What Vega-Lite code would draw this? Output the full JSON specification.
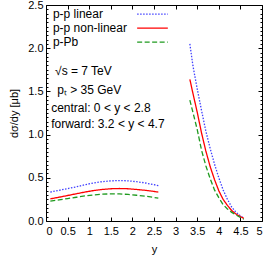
{
  "$schema": "https://vega.github.io/schema/vega-lite/v6.json",
  "width": 216,
  "height": 216,
  "autosize": {"type": "none"},
  "padding": {"left": 46, "top": 5, "right": 6, "bottom": 37},
  "config": {
    "view": {"stroke": "black", "strokeWidth": 1},
    "font": "Liberation Sans",
    "axis": {"grid": false, "domainColor": "black", "tickColor": "black", "labelColor": "black", "titleColor": "black", "labelFontSize": 11, "titleFontSize": 11, "titleFontWeight": "normal", "labelFont": "Liberation Sans", "titleFont": "Liberation Sans"}
  },
  "datasets": {
    "curves": [
      {"series": "p-p linear", "region": "central", "x": 0.1, "y": 0.335},
      {"series": "p-p linear", "region": "central", "x": 0.3, "y": 0.355},
      {"series": "p-p linear", "region": "central", "x": 0.5, "y": 0.375},
      {"series": "p-p linear", "region": "central", "x": 0.7, "y": 0.395},
      {"series": "p-p linear", "region": "central", "x": 0.9, "y": 0.42},
      {"series": "p-p linear", "region": "central", "x": 1.1, "y": 0.44},
      {"series": "p-p linear", "region": "central", "x": 1.3, "y": 0.455},
      {"series": "p-p linear", "region": "central", "x": 1.5, "y": 0.465},
      {"series": "p-p linear", "region": "central", "x": 1.7, "y": 0.468},
      {"series": "p-p linear", "region": "central", "x": 1.9, "y": 0.465},
      {"series": "p-p linear", "region": "central", "x": 2.1, "y": 0.455},
      {"series": "p-p linear", "region": "central", "x": 2.3, "y": 0.44},
      {"series": "p-p linear", "region": "central", "x": 2.5, "y": 0.42},
      {"series": "p-p linear", "region": "central", "x": 2.6, "y": 0.41},
      {"series": "p-p non-linear", "region": "central", "x": 0.1, "y": 0.256},
      {"series": "p-p non-linear", "region": "central", "x": 0.3, "y": 0.275},
      {"series": "p-p non-linear", "region": "central", "x": 0.5, "y": 0.295},
      {"series": "p-p non-linear", "region": "central", "x": 0.7, "y": 0.315},
      {"series": "p-p non-linear", "region": "central", "x": 0.9, "y": 0.335},
      {"series": "p-p non-linear", "region": "central", "x": 1.1, "y": 0.352},
      {"series": "p-p non-linear", "region": "central", "x": 1.3, "y": 0.365},
      {"series": "p-p non-linear", "region": "central", "x": 1.5, "y": 0.373},
      {"series": "p-p non-linear", "region": "central", "x": 1.7, "y": 0.376},
      {"series": "p-p non-linear", "region": "central", "x": 1.9, "y": 0.373},
      {"series": "p-p non-linear", "region": "central", "x": 2.1, "y": 0.365},
      {"series": "p-p non-linear", "region": "central", "x": 2.3, "y": 0.355},
      {"series": "p-p non-linear", "region": "central", "x": 2.5, "y": 0.342},
      {"series": "p-p non-linear", "region": "central", "x": 2.6, "y": 0.334},
      {"series": "p-Pb", "region": "central", "x": 0.1, "y": 0.229},
      {"series": "p-Pb", "region": "central", "x": 0.3, "y": 0.245},
      {"series": "p-Pb", "region": "central", "x": 0.5, "y": 0.26},
      {"series": "p-Pb", "region": "central", "x": 0.7, "y": 0.275},
      {"series": "p-Pb", "region": "central", "x": 0.9, "y": 0.29},
      {"series": "p-Pb", "region": "central", "x": 1.1, "y": 0.302},
      {"series": "p-Pb", "region": "central", "x": 1.3, "y": 0.31},
      {"series": "p-Pb", "region": "central", "x": 1.5, "y": 0.314},
      {"series": "p-Pb", "region": "central", "x": 1.7, "y": 0.313},
      {"series": "p-Pb", "region": "central", "x": 1.9, "y": 0.308},
      {"series": "p-Pb", "region": "central", "x": 2.1, "y": 0.298},
      {"series": "p-Pb", "region": "central", "x": 2.3, "y": 0.287},
      {"series": "p-Pb", "region": "central", "x": 2.5, "y": 0.272},
      {"series": "p-Pb", "region": "central", "x": 2.6, "y": 0.264},
      {"series": "p-p linear", "region": "forward", "x": 3.33, "y": 2.05},
      {"series": "p-p linear", "region": "forward", "x": 3.4, "y": 1.8},
      {"series": "p-p linear", "region": "forward", "x": 3.5, "y": 1.53},
      {"series": "p-p linear", "region": "forward", "x": 3.6, "y": 1.28},
      {"series": "p-p linear", "region": "forward", "x": 3.7, "y": 1.04},
      {"series": "p-p linear", "region": "forward", "x": 3.8, "y": 0.84},
      {"series": "p-p linear", "region": "forward", "x": 3.9, "y": 0.66},
      {"series": "p-p linear", "region": "forward", "x": 4.0, "y": 0.5},
      {"series": "p-p linear", "region": "forward", "x": 4.1, "y": 0.36},
      {"series": "p-p linear", "region": "forward", "x": 4.2, "y": 0.25},
      {"series": "p-p linear", "region": "forward", "x": 4.3, "y": 0.16},
      {"series": "p-p linear", "region": "forward", "x": 4.4, "y": 0.1},
      {"series": "p-p linear", "region": "forward", "x": 4.5, "y": 0.06},
      {"series": "p-p linear", "region": "forward", "x": 4.58, "y": 0.03},
      {"series": "p-p non-linear", "region": "forward", "x": 3.33, "y": 1.64},
      {"series": "p-p non-linear", "region": "forward", "x": 3.4, "y": 1.48},
      {"series": "p-p non-linear", "region": "forward", "x": 3.5, "y": 1.26},
      {"series": "p-p non-linear", "region": "forward", "x": 3.6, "y": 1.02},
      {"series": "p-p non-linear", "region": "forward", "x": 3.7, "y": 0.81},
      {"series": "p-p non-linear", "region": "forward", "x": 3.8, "y": 0.63},
      {"series": "p-p non-linear", "region": "forward", "x": 3.9, "y": 0.48},
      {"series": "p-p non-linear", "region": "forward", "x": 4.0, "y": 0.35},
      {"series": "p-p non-linear", "region": "forward", "x": 4.1, "y": 0.25},
      {"series": "p-p non-linear", "region": "forward", "x": 4.2, "y": 0.18},
      {"series": "p-p non-linear", "region": "forward", "x": 4.3, "y": 0.12},
      {"series": "p-p non-linear", "region": "forward", "x": 4.4, "y": 0.08},
      {"series": "p-p non-linear", "region": "forward", "x": 4.5, "y": 0.05},
      {"series": "p-p non-linear", "region": "forward", "x": 4.58, "y": 0.03},
      {"series": "p-Pb", "region": "forward", "x": 3.33, "y": 1.4},
      {"series": "p-Pb", "region": "forward", "x": 3.4, "y": 1.26},
      {"series": "p-Pb", "region": "forward", "x": 3.5, "y": 1.06},
      {"series": "p-Pb", "region": "forward", "x": 3.6, "y": 0.82},
      {"series": "p-Pb", "region": "forward", "x": 3.7, "y": 0.64},
      {"series": "p-Pb", "region": "forward", "x": 3.8, "y": 0.49},
      {"series": "p-Pb", "region": "forward", "x": 3.9, "y": 0.36},
      {"series": "p-Pb", "region": "forward", "x": 4.0, "y": 0.27},
      {"series": "p-Pb", "region": "forward", "x": 4.1, "y": 0.19},
      {"series": "p-Pb", "region": "forward", "x": 4.2, "y": 0.14},
      {"series": "p-Pb", "region": "forward", "x": 4.3, "y": 0.1},
      {"series": "p-Pb", "region": "forward", "x": 4.4, "y": 0.07},
      {"series": "p-Pb", "region": "forward", "x": 4.5, "y": 0.04},
      {"series": "p-Pb", "region": "forward", "x": 4.58, "y": 0.02}
    ],
    "legend": [
      {"series": "p-p linear", "x": 2.11, "x2": 2.82, "y": 2.395, "tx": 0.16},
      {"series": "p-p non-linear", "x": 2.11, "x2": 2.82, "y": 2.233, "tx": 0.16},
      {"series": "p-Pb", "x": 2.11, "x2": 2.82, "y": 2.07, "tx": 0.16}
    ],
    "notes": [
      {"text": "√s = 7 TeV", "x": 0.21, "y": 1.736},
      {"text": "pₜ > 35 GeV", "x": 0.26, "y": 1.515},
      {"text": "central: 0 < y < 2.8", "x": 0.12, "y": 1.31},
      {"text": "forward: 3.2 < y < 4.7", "x": 0.12, "y": 1.12}
    ]
  },
  "resolve": {"axis": {"x": "independent", "y": "independent"}},
  "layer": [
    {
      "data": {"name": "curves"},
      "mark": {"type": "line", "strokeWidth": 1.3, "clip": true},
      "encoding": {
        "x": {"field": "x", "type": "quantitative", "scale": {"domain": [0, 5], "nice": false, "zero": false},
              "axis": {"title": "y", "values": [0, 0.5, 1, 1.5, 2, 2.5, 3, 3.5, 4, 4.5, 5], "format": "~g", "tickSize": -4, "labelPadding": 8, "titlePadding": 7, "domain": false}},
        "y": {"field": "y", "type": "quantitative", "scale": {"domain": [0, 2.5], "nice": false, "zero": false},
              "axis": {"title": "dσ/dy [μb]", "values": [0, 0.5, 1, 1.5, 2, 2.5], "format": ".1f", "tickSize": -4, "labelPadding": 7, "titlePadding": 8, "domain": false}},
        "color": {"field": "series", "type": "nominal", "scale": {"domain": ["p-p linear", "p-p non-linear", "p-Pb"], "range": ["#4040ff", "#ff0000", "#1f9a1f"]}, "legend": null},
        "strokeDash": {"field": "series", "type": "nominal", "scale": {"domain": ["p-p linear", "p-p non-linear", "p-Pb"], "range": [[1.5, 1.5], [1, 0], [5, 2.5]]}, "legend": null},
        "detail": {"field": "region"}
      }
    },
    {
      "data": {"name": "legend"},
      "mark": {"type": "rule", "strokeWidth": 1.3},
      "encoding": {
        "x": {"field": "x", "type": "quantitative", "axis": {"orient": "top", "title": null, "labels": false, "values": [0, 0.5, 1, 1.5, 2, 2.5, 3, 3.5, 4, 4.5, 5], "tickSize": -4, "domain": false}},
        "x2": {"field": "x2"},
        "y": {"field": "y", "type": "quantitative", "axis": {"orient": "right", "title": null, "labels": false, "values": [0, 0.5, 1, 1.5, 2, 2.5], "tickSize": -4, "domain": false}},
        "color": {"field": "series", "type": "nominal", "legend": null},
        "strokeDash": {"field": "series", "type": "nominal", "legend": null}
      }
    },
    {
      "data": {"name": "legend"},
      "mark": {"type": "text", "align": "left", "baseline": "middle", "fontSize": 12, "font": "Liberation Sans", "color": "black"},
      "encoding": {
        "x": {"field": "tx", "type": "quantitative", "axis": null},
        "y": {"field": "y", "type": "quantitative", "axis": {"orient": "left", "title": null, "labels": false, "tickSize": -2, "domain": false, "values": [0.05,0.1,0.15,0.2,0.25,0.3,0.35,0.4,0.45,0.55,0.6,0.65,0.7,0.75,0.8,0.85,0.9,0.95,1.05,1.1,1.15,1.2,1.25,1.3,1.35,1.4,1.45,1.55,1.6,1.65,1.7,1.75,1.8,1.85,1.9,1.95,2.05,2.1,2.15,2.2,2.25,2.3,2.35,2.4,2.45]}},
        "text": {"field": "series"}
      }
    },
    {
      "data": {"name": "notes"},
      "mark": {"type": "text", "align": "left", "baseline": "middle", "fontSize": 12, "font": "Liberation Sans", "color": "black"},
      "encoding": {
        "x": {"field": "x", "type": "quantitative", "axis": null},
        "y": {"field": "y", "type": "quantitative", "axis": {"orient": "right", "title": null, "labels": false, "tickSize": -2, "domain": false, "values": [0.05,0.1,0.15,0.2,0.25,0.3,0.35,0.4,0.45,0.55,0.6,0.65,0.7,0.75,0.8,0.85,0.9,0.95,1.05,1.1,1.15,1.2,1.25,1.3,1.35,1.4,1.45,1.55,1.6,1.65,1.7,1.75,1.8,1.85,1.9,1.95,2.05,2.1,2.15,2.2,2.25,2.3,2.35,2.4,2.45]}},
        "text": {"field": "text"}
      }
    }
  ]
}
